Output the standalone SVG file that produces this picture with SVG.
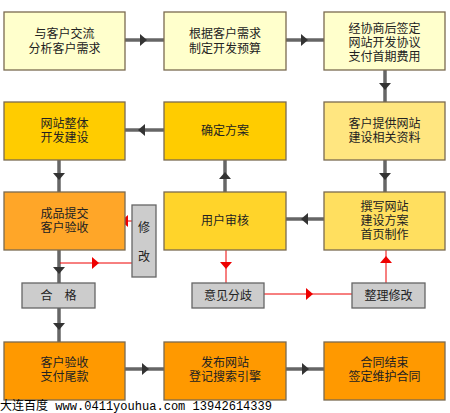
<svg xmlns="http://www.w3.org/2000/svg" width="450" height="413" viewBox="0 0 450 413">
<style>
.b{stroke:#7a6a50;stroke-width:1.3}
.g{fill:#cccccc;stroke:#666;stroke-width:1.3}
.t{font-family:"Noto Sans CJK SC","Noto Sans",sans-serif;font-size:12px;fill:#222;text-anchor:middle}
.c{stroke:#666;stroke-width:3.5;fill:none}
.r{stroke:#e00;stroke-width:1;fill:none}
</style>
<defs>
<path id="ad" d="M-6,-3 L6,-3 L0,4 Z" fill="#333"/>
<path id="au" d="M-6,3 L6,3 L0,-4 Z" fill="#333"/>
<path id="ar" d="M-3,-6 L-3,6 L4,0 Z" fill="#333"/>
<path id="al" d="M3,-6 L3,6 L-4,0 Z" fill="#333"/>
<path id="rd" d="M-6,-3 L6,-3 L0,4 Z" fill="#e00"/>
<path id="ru" d="M-6,3 L6,3 L0,-4 Z" fill="#e00"/>
<path id="rr" d="M-3,-6 L-3,6 L4,0 Z" fill="#e00"/>
<path id="rl" d="M3,-6 L3,6 L-4,0 Z" fill="#e00"/>
</defs>
<rect width="450" height="413" fill="#fff"/>
<g id="connectors">
<line class="c" x1="125" y1="40" x2="164" y2="40"/><use href="#ar" x="143" y="40"/>
<line class="c" x1="286" y1="40" x2="324" y2="40"/><use href="#ar" x="304" y="40"/>
<line class="c" x1="385" y1="70" x2="385" y2="102"/><use href="#ad" x="385" y="86"/>
<line class="c" x1="164" y1="130" x2="125" y2="130"/><use href="#al" x="142" y="130"/>
<line class="c" x1="59" y1="160" x2="59" y2="192"/><use href="#ad" x="59" y="176"/>
<line class="c" x1="385" y1="160" x2="385" y2="192"/><use href="#ad" x="385" y="176"/>
<line class="c" x1="324" y1="219" x2="286" y2="219"/><use href="#al" x="305" y="219"/>
<line class="c" x1="225" y1="192" x2="225" y2="160"/><use href="#au" x="225" y="176"/>
<line class="c" x1="59" y1="250" x2="59" y2="283"/><use href="#ad" x="59" y="270"/>
<line class="c" x1="59" y1="308" x2="59" y2="342"/><use href="#ad" x="59" y="326"/>
<line class="c" x1="125" y1="369" x2="164" y2="369"/><use href="#ar" x="145" y="369"/>
<line class="c" x1="286" y1="369" x2="324" y2="369"/><use href="#ar" x="305" y="369"/>
<line class="r" x1="226" y1="250" x2="226" y2="283"/><use href="#rd" x="226" y="265"/>
<line class="r" x1="264" y1="294" x2="352" y2="294"/><use href="#rr" x="309" y="294"/>
<line class="r" x1="386" y1="283" x2="386" y2="250"/><use href="#ru" x="386" y="260"/>
<line class="r" x1="132" y1="221" x2="119" y2="221"/><use href="#rl" x="125" y="221"/>
<line class="r" x1="60" y1="263" x2="132" y2="263"/><use href="#rr" x="95" y="263"/>
</g>
<g id="n1"><rect class="b" x="4" y="12" width="121" height="58" fill="#ffffcc"/><text class="t" x="64.5" y="38">与客户交流</text><text class="t" x="64.5" y="53">分析客户需求</text></g>
<g id="n2"><rect class="b" x="164" y="12" width="122" height="58" fill="#ffffcc"/><text class="t" x="225" y="38">根据客户需求</text><text class="t" x="225" y="53">制定开发预算</text></g>
<g id="n3"><rect class="b" x="324" y="12" width="121" height="58" fill="#ffffcc"/><text class="t" x="384.5" y="33">经协商后签定</text><text class="t" x="384.5" y="47">网站开发协议</text><text class="t" x="384.5" y="61">支付首期费用</text></g>
<g id="n4"><rect class="b" x="4" y="102" width="121" height="58" fill="#ffcc00"/><text class="t" x="64.5" y="128">网站整体</text><text class="t" x="64.5" y="142">开发建设</text></g>
<g id="n5"><rect class="b" x="164" y="102" width="122" height="58" fill="#ffcc00"/><text class="t" x="225" y="135">确定方案</text></g>
<g id="n6"><rect class="b" x="324" y="102" width="121" height="58" fill="#ffe680"/><text class="t" x="384.5" y="128">客户提供网站</text><text class="t" x="384.5" y="142">建设相关资料</text></g>
<g id="n7"><rect class="b" x="4" y="192" width="121" height="58" fill="#ffa628"/><text class="t" x="64.5" y="218">成品提交</text><text class="t" x="64.5" y="232">客户验收</text></g>
<g id="n8"><rect class="b" x="164" y="192" width="122" height="58" fill="#ffd42a"/><text class="t" x="225" y="225">用户审核</text></g>
<g id="n9"><rect class="b" x="324" y="192" width="121" height="58" fill="#ffdf5f"/><text class="t" x="384.5" y="211">撰写网站</text><text class="t" x="384.5" y="225">建设方案</text><text class="t" x="384.5" y="239">首页制作</text></g>
<g id="n10"><rect class="g" x="132" y="205" width="24" height="72"/><text class="t" x="144" y="232">修</text><text class="t" x="144" y="261">改</text></g>
<g id="n11"><rect class="g" x="22" y="283" width="73" height="25"/><text class="t" x="58.5" y="300">合　格</text></g>
<g id="n12"><rect class="g" x="192" y="283" width="72" height="25"/><text class="t" x="228" y="300">意见分歧</text></g>
<g id="n13"><rect class="g" x="352" y="283" width="73" height="25"/><text class="t" x="388.5" y="300">整理修改</text></g>
<g id="n14"><rect class="b" x="4" y="342" width="121" height="58" fill="#ff9900"/><text class="t" x="64.5" y="367">客户验收</text><text class="t" x="64.5" y="381">支付尾款</text></g>
<g id="n15"><rect class="b" x="164" y="342" width="122" height="58" fill="#ff9900"/><text class="t" x="225" y="367">发布网站</text><text class="t" x="225" y="381">登记搜索引擎</text></g>
<g id="n16"><rect class="b" x="324" y="342" width="121" height="58" fill="#ff9900"/><text class="t" x="384.5" y="367">合同结束</text><text class="t" x="384.5" y="381">签定维护合同</text></g>
<text x="0" y="410" font-family="'Liberation Mono','Noto Sans CJK SC',monospace" font-size="12.5" fill="#000" textLength="272" lengthAdjust="spacingAndGlyphs">大连百度 www.0411youhua.com 13942614339</text>
</svg>
